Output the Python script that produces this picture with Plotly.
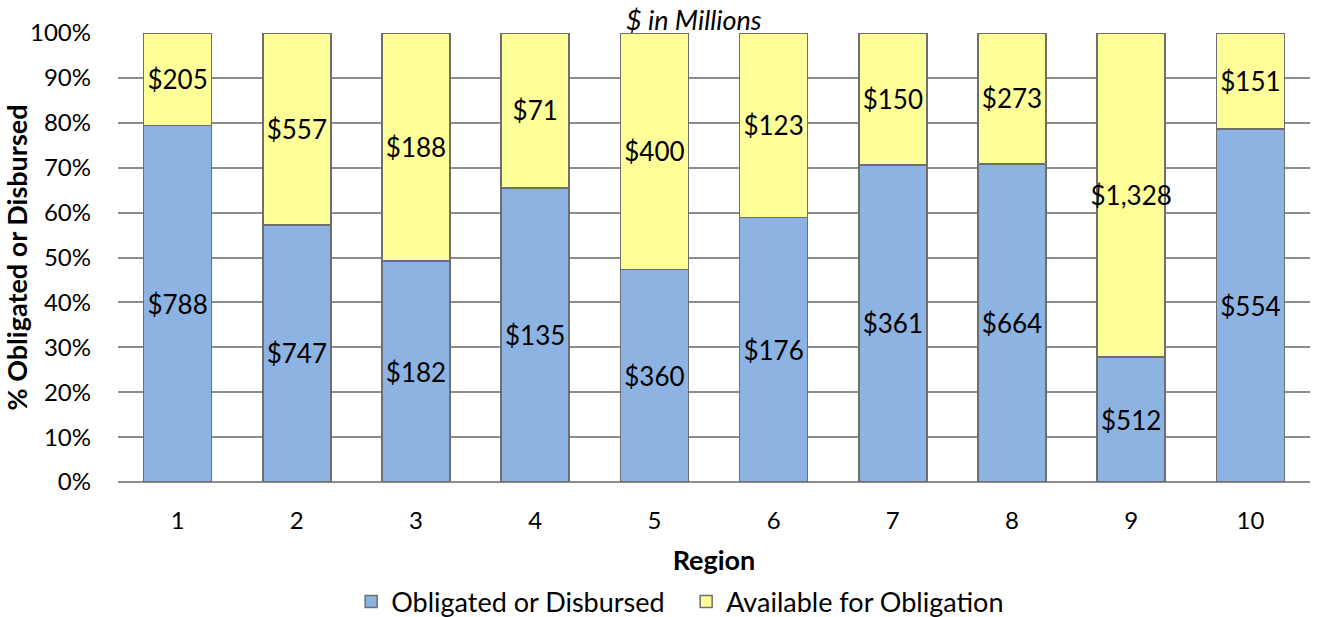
import plotly.graph_objects as go

regions = ["1", "2", "3", "4", "5", "6", "7", "8", "9", "10"]
obligated = [788, 747, 182, 135, 360, 176, 361, 664, 512, 554]
available = [205, 557, 188, 71, 400, 123, 150, 273, 1328, 151]
y_ticks = [0, 10, 20, 30, 40, 50, 60, 70, 80, 90, 100]
y_ticklabels = [f"{t}%" for t in y_ticks]

FONT = "Lato"
fig = go.Figure()
for name, vals, color in [("Obligated or Disbursed", obligated, "#8DB3E2"),
                          ("Available for Obligation", available, "#FFFF99")]:
    fig.add_trace(go.Bar(
        x=regions, y=vals, name=name,
        marker=dict(color=color, line=dict(color="#6E6E6E", width=1.5)),
        text=[f"${v:,}" for v in vals],
        textposition="inside", insidetextanchor="middle",
        constraintext="none", textangle=0,
        textfont=dict(family=FONT, size=26, color="black"),
        hoverinfo="skip",
    ))

fig.update_layout(
    barmode="stack", barnorm="percent", bargap=0.43,
    width=1317, height=617,
    margin=dict(l=118, r=7, t=33, b=135, autoexpand=False),
    plot_bgcolor="white", paper_bgcolor="white",
    font=dict(family=FONT, size=24, color="black"),
    showlegend=True,
    legend=dict(orientation="h", x=0.521, xanchor="center", xref="container",
                y=-0.267, yanchor="middle", yref="paper",
                font=dict(family=FONT, size=27), traceorder="normal",
                itemwidth=30, entrywidth=290),
    xaxis=dict(title=dict(text="<b>Region</b>", font=dict(size=27), standoff=18),
               ticks="", ticklabelstandoff=22, tickfont=dict(size=24),
               showline=False, showgrid=False, automargin=False),
    yaxis=dict(range=[0, 100], tickvals=y_ticks, ticktext=y_ticklabels,
               tickfont=dict(size=24),
               title=dict(text="<b>% Obligated or Disbursed</b>", font=dict(size=27), standoff=12),
               showgrid=True, gridcolor="#8C8C8C", gridwidth=1.5,
               zeroline=True, zerolinecolor="#8C8C8C", zerolinewidth=1.5,
               ticks="", showline=False, ticklabelstandoff=26, automargin=False),
    annotations=[dict(text="<i>$ in Millions</i>", x=0.483, xref="paper",
                      y=1.0, yref="paper", yanchor="bottom", yshift=-5,
                      showarrow=False, font=dict(family=FONT, size=27))],
)

fig.write_html("out.html")
